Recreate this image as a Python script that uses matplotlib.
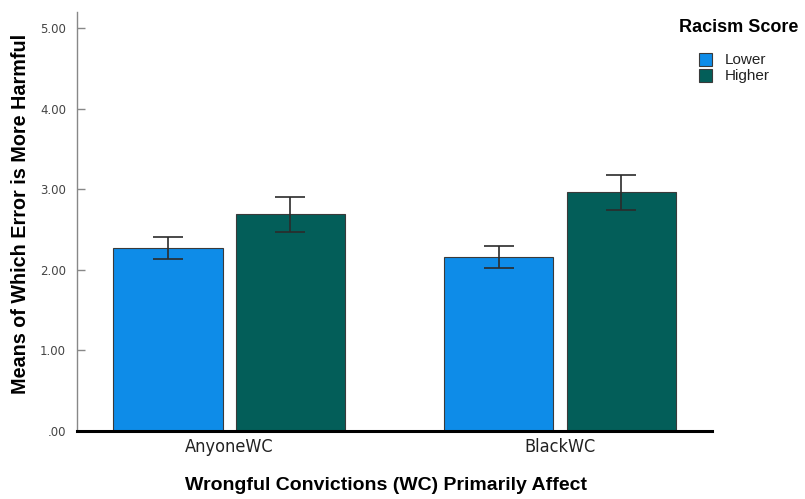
import matplotlib
matplotlib.use("Agg")
import matplotlib.pyplot as plt
import matplotlib.patches as patches
import numpy as np

# group means and error bar limits
groups = ["AnyoneWC", "BlackWC"]
series = ["Lower", "Higher"]
means_lower = [2.27, 2.16]
means_higher = [2.69, 2.96]
err_lower_lo = [2.13, 2.02]
err_lower_hi = [2.41, 2.30]
err_higher_lo = [2.47, 2.74]
err_higher_hi = [2.90, 3.18]
yticks = [0, 1, 2, 3, 4, 5]
ytick_labels = [".00", "1.00", "2.00", "3.00", "4.00", "5.00"]

colors = ["#0E8CE8", "#035E59"]
edge = "#3a3a3a"

fig = plt.figure(figsize=(8.05, 4.99), dpi=100)
ax = fig.add_axes([0.0957, 0.1363, 0.7888, 0.8397])

x = np.arange(len(groups))
width = 0.33
offset = 0.185

for k, (m, lo, hi) in enumerate([(means_lower, err_lower_lo, err_lower_hi),
                                 (means_higher, err_higher_lo, err_higher_hi)]):
    pos = x + (offset if k else -offset)
    m = np.array(m)
    yerr = [m - np.array(lo), np.array(hi) - m]
    ax.bar(pos, m, width=width, color=colors[k], edgecolor=edge, linewidth=0.8,
           label=series[k], zorder=2)
    ax.errorbar(pos, m, yerr=yerr, fmt="none", ecolor="#2b2b2b", elinewidth=1.2,
                capsize=11, capthick=1.2, zorder=3)

ax.set_xlim(-0.46, 1.46)
ax.set_ylim(0, 5.2)
ax.set_yticks(yticks)
ax.set_yticklabels(ytick_labels, fontsize=8.5, color="#444444",
                   family="DejaVu Sans")
ax.tick_params(axis="y", direction="in", length=6, color="#888888", width=1, pad=8)
ax.set_xticks(x)
ax.set_xticklabels(groups, fontsize=13, color="#222222",
                   family="DejaVu Sans", fontstretch="condensed")
ax.tick_params(axis="x", length=0, pad=5)

for side in ["top", "right"]:
    ax.spines[side].set_visible(False)
ax.spines["left"].set_color("#888888")
ax.spines["left"].set_linewidth(1)
ax.spines["bottom"].set_color("black")
ax.spines["bottom"].set_linewidth(2.2)
ax.spines["bottom"].set_zorder(4)

# axis titles placed in figure coordinates
fig.text(0.025, 0.572, "Means of Which Error is More Harmful", fontsize=14.2,
         fontweight="bold", family="Liberation Sans", rotation=90,
         va="center", ha="center")
fig.text(0.48, 0.028, "Wrongful Convictions (WC) Primarily Affect", fontsize=14,
         fontweight="bold", family="Liberation Sans", va="center", ha="center")

# legend on the right, outside the axes
fig.text(0.843, 0.945, "Racism Score", fontsize=13, fontweight="bold",
         family="Liberation Sans", va="center", ha="left")
for k, name in enumerate(series):
    yy = 0.880 - k * 0.032
    fig.patches.append(patches.Rectangle((0.868, yy - 0.013), 0.017, 0.026,
                                         transform=fig.transFigure,
                                         facecolor=colors[k], edgecolor=edge,
                                         linewidth=0.8))
    fig.text(0.9, yy, name, fontsize=11, family="Liberation Sans",
             va="center", ha="left", color="#222222")

fig.savefig("out.png", dpi=100)
